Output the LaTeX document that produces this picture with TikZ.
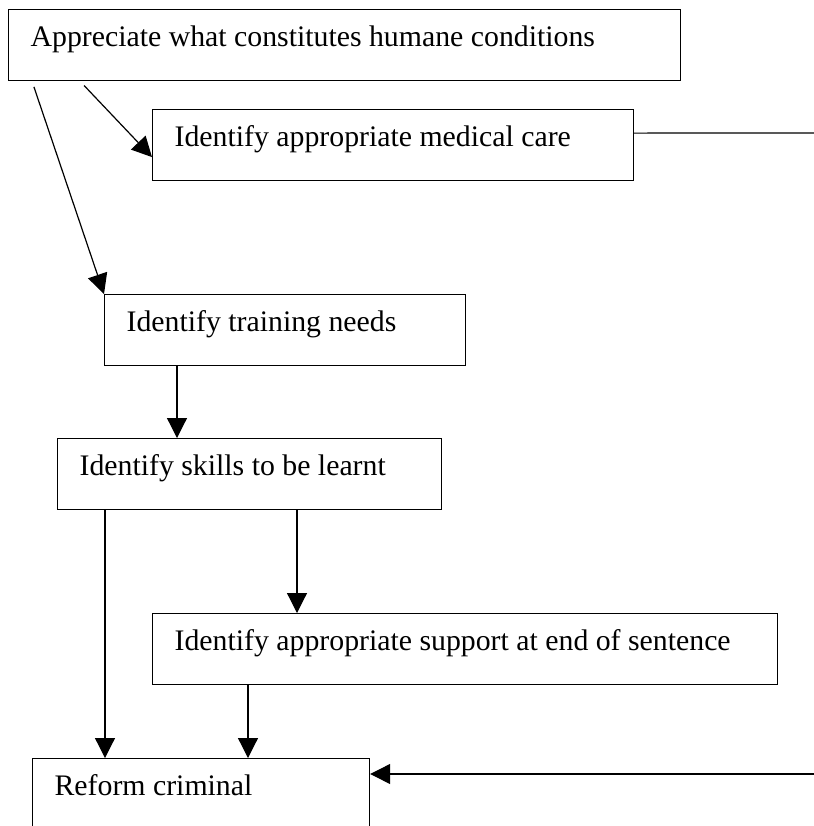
\documentclass[tikz,border=0pt]{standalone}
\usepackage{fontspec}
\setmainfont{Liberation Serif}
\usetikzlibrary{positioning, arrows.meta}
\tikzset
{
    stepbox/.style={draw, rectangle, anchor=north west, inner xsep=11pt, inner ysep=0pt,
        text height=18.5pt, text depth=17pt, align=flush left, text width=#1,
        font=\fontsize{14.9}{18}\selectfont}, % every box of the chart
}
\begin{document}
\begin{tikzpicture}[x=0.5pt, y=-0.5pt, >={Triangle[length=10pt, width=10pt]}, line width=0.6pt]
    \useasboundingbox (0,0) rectangle (814,826);
    \clip (0,0) rectangle (814,826);

    % Boxes
    \node[stepbox=314pt] (app) at (8,9) {Appreciate what constitutes humane conditions};
    \node[stepbox=218.5pt] (med) at (152,109) {Identify appropriate medical care};
    \node[stepbox=158.5pt] (train) at (104,294) {Identify training needs};
    \node[stepbox=170pt] (skills) at (57,438) {Identify skills to be learnt};
    \node[stepbox=290.5pt] (support) at (152,613) {Identify appropriate support at end of sentence};
    \node[stepbox=146.5pt, text depth=19pt] (reform) at (32,758) {Reform criminal};

    % Free ends and start points
    \coordinate (medR) at (830,133);
    \coordinate (reformR) at (830,774);
    \coordinate (t1) at ([xshift=36.5pt]train.south west);
    \coordinate (s1) at ([xshift=24pt]skills.south west);
    \coordinate (s2) at ([xshift=120pt]skills.south west);
    \coordinate (u1) at ([xshift=48pt]support.south west);

    % Arrows
    \draw[->, shorten <=3pt] ([xshift=36pt]app.south west) -- ([yshift=-6pt]med.west);
    \draw[->, shorten <=3pt] ([xshift=12pt]app.south west) -- (train.north west);
    \draw ([yshift=6pt]med.east) -- (medR);
    \draw[->] (t1) -- (t1 |- skills.north);
    \draw[->] (s1) -- (s1 |- reform.north);
    \draw[->] (s2) -- (s2 |- support.north);
    \draw[->] (u1) -- (u1 |- reform.north);
    \draw[->] (reformR) -- (reformR -| reform.east);
\end{tikzpicture}
\end{document}
